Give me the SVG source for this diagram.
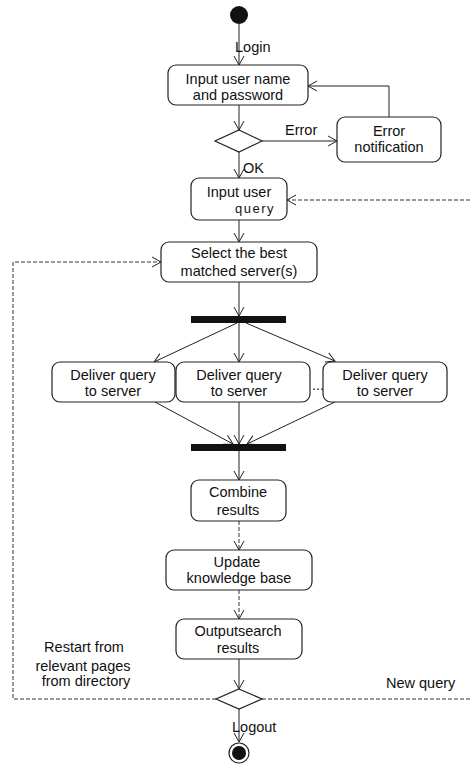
<svg xmlns="http://www.w3.org/2000/svg" width="470" height="764" viewBox="0 0 470 764">
<style>
.box{fill:#fff;stroke:#222;stroke-width:1.2}
.t{font-family:"Liberation Sans",Arial,sans-serif;font-size:14.5px;fill:#111;text-anchor:middle}
.l{font-family:"Liberation Sans",Arial,sans-serif;font-size:14.5px;fill:#111}
.c{fill:none;stroke:#222;stroke-width:1}
.d{fill:none;stroke:#333;stroke-width:1;stroke-dasharray:4,2}
.bar{fill:#111}
</style>
<defs>
<marker id="a" markerWidth="10" markerHeight="12" refX="9" refY="6" orient="auto" markerUnits="userSpaceOnUse">
<path d="M0,1 L9,6 L0,11" fill="none" stroke="#222" stroke-width="1"/>
</marker>
</defs>
<rect width="470" height="764" fill="#fff"/>
<g id="connectors">
<line class="c" x1="239" y1="24" x2="239" y2="65" marker-end="url(#a)"/>
<line class="c" x1="239" y1="105" x2="239" y2="130" marker-end="url(#a)"/>
<line class="c" x1="262" y1="141" x2="337" y2="141" marker-end="url(#a)"/>
<polyline class="c" points="389,117 389,86 308,86" marker-end="url(#a)"/>
<line class="c" x1="239" y1="152" x2="239" y2="178" marker-end="url(#a)"/>
<line class="d" x1="470" y1="200" x2="287" y2="200" marker-end="url(#a)"/>
<line class="c" x1="239" y1="220" x2="239" y2="242" marker-end="url(#a)"/>
<line class="c" x1="239" y1="282" x2="239" y2="316" marker-end="url(#a)"/>
<line class="c" x1="237" y1="323" x2="154" y2="362" marker-end="url(#a)"/>
<line class="c" x1="239" y1="323" x2="239" y2="362" marker-end="url(#a)"/>
<line class="c" x1="246" y1="323" x2="335" y2="361" marker-end="url(#a)"/>
<line class="c" x1="155" y1="402" x2="233" y2="444" marker-end="url(#a)"/>
<line class="c" x1="239" y1="402" x2="239" y2="444" marker-end="url(#a)"/>
<line class="c" x1="335" y1="402" x2="247" y2="444" marker-end="url(#a)"/>
<line class="c" x1="239" y1="451" x2="239" y2="480" marker-end="url(#a)"/>
<line class="d" x1="239" y1="521" x2="239" y2="550" marker-end="url(#a)"/>
<line class="d" x1="239" y1="590" x2="239" y2="619" marker-end="url(#a)"/>
<line class="c" x1="239" y1="659" x2="239" y2="689" marker-end="url(#a)"/>
<polyline class="d" points="216,699 13,699 13,262 161,262" marker-end="url(#a)"/>
<line class="d" x1="262" y1="699" x2="470" y2="699"/>
<line class="c" x1="239" y1="709" x2="239" y2="742" marker-end="url(#a)"/>
<text class="l" x="232" y="732">Logout</text>
<text class="l" x="235" y="52">Login</text>
<text class="l" x="285" y="135">Error</text>
<text class="l" x="243" y="173">OK</text>
<text class="t" x="84" y="652">Restart from</text>
<text class="t" x="83" y="671">relevant pages</text>
<text class="t" x="86" y="686">from directory</text>
<text class="l" x="386" y="688">New query</text>
</g>
<g id="start"><circle cx="239" cy="15" r="9" fill="#111"/></g>
<g id="n1"><rect class="box" x="168" y="65" width="140" height="40" rx="8"/>
<text class="t" x="238" y="84">Input user name</text><text class="t" x="238" y="100">and password</text></g>
<g id="dec1"><polygon points="239,130 262,141 239,152 215,141" fill="#fff" stroke="#222" stroke-width="1.2"/></g>
<g id="err"><rect class="box" x="337" y="117" width="104" height="45" rx="8"/>
<text class="t" x="389" y="136">Error</text><text class="t" x="389" y="152">notification</text></g>
<g id="n2"><rect class="box" x="191" y="178" width="96" height="42" rx="8"/>
<text class="t" x="239" y="197">Input user</text><text class="t" x="255" y="213" style="font-size:13px;letter-spacing:1.5px">query</text></g>
<g id="n3"><rect class="box" x="161" y="242" width="156" height="40" rx="8"/>
<text class="t" x="239" y="258">Select the best</text><text class="t" x="239" y="276">matched server(s)</text></g>
<g id="fork"><rect class="bar" x="191" y="316" width="95" height="7"/></g>
<g id="d1"><rect class="box" x="52" y="362" width="123" height="40" rx="8"/>
<text class="t" x="113" y="380">Deliver query</text><text class="t" x="113" y="396">to server</text></g>
<g id="d2"><rect class="box" x="176" y="362" width="134" height="40" rx="8"/>
<text class="t" x="239" y="380">Deliver query</text><text class="t" x="239" y="396">to server</text></g>
<text class="l" x="312" y="390">...</text>
<g id="d3"><rect class="box" x="323" y="362" width="124" height="40" rx="8"/>
<text class="t" x="385" y="380">Deliver query</text><text class="t" x="385" y="396">to server</text></g>
<g id="join"><rect class="bar" x="191" y="444" width="95" height="7"/></g>
<g id="n4"><rect class="box" x="191" y="480" width="95" height="41" rx="8"/>
<text class="t" x="238" y="497">Combine</text><text class="t" x="238" y="515">results</text></g>
<g id="n5"><rect class="box" x="166" y="550" width="146" height="40" rx="8"/>
<text class="t" x="237" y="567">Update</text><text class="t" x="239" y="583">knowledge base</text></g>
<g id="n6"><rect class="box" x="176" y="619" width="126" height="40" rx="8"/>
<text class="t" x="238" y="636">Outputsearch</text><text class="t" x="238" y="653">results</text></g>
<g id="dec2"><polygon points="239,689 262,699 239,709 216,699" fill="#fff" stroke="#222" stroke-width="1.2"/></g>
<g id="end"><circle cx="239" cy="753" r="10" fill="#fff" stroke="#222" stroke-width="1.2"/><circle cx="239" cy="753" r="7" fill="#111"/></g>
</svg>
